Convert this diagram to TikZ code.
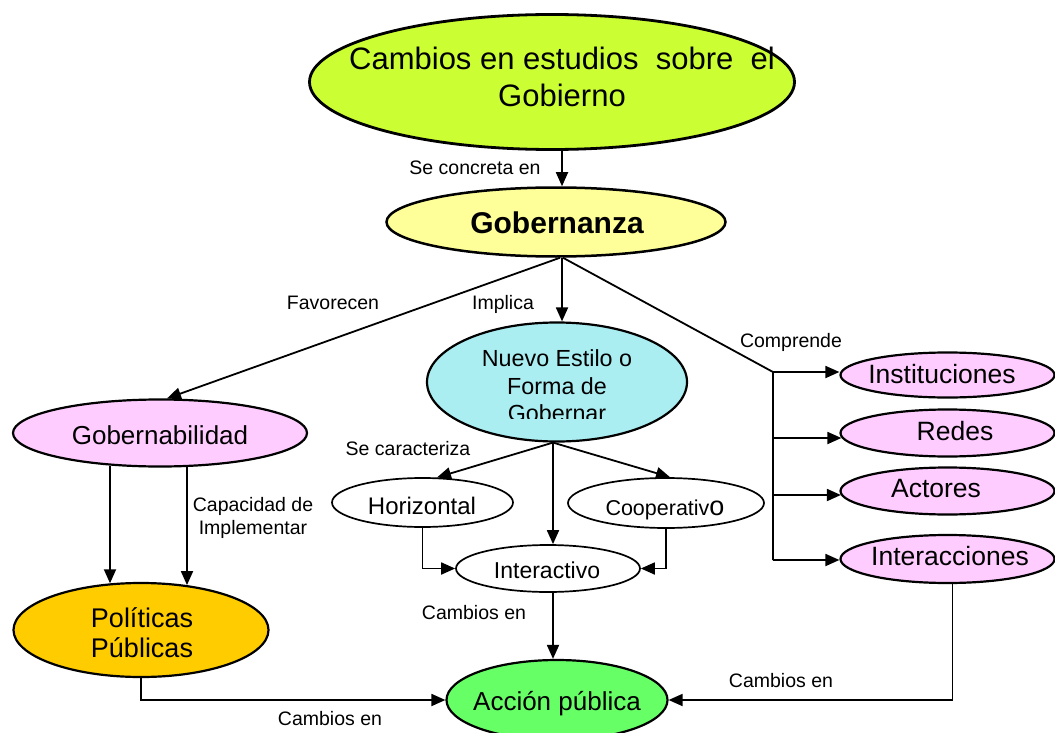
\documentclass[tikz,border=0pt]{standalone}
\usepackage{fontspec}
\setmainfont{Liberation Sans}
\usetikzlibrary{arrows.meta,shapes.geometric}
\definecolor{cgreen}{HTML}{CCFF33}
\definecolor{cyel}{HTML}{FFFF99}
\definecolor{ccyan}{HTML}{AAEEF2}
\definecolor{cpink}{HTML}{FFCCFF}
\definecolor{corange}{HTML}{FFCC00}
\definecolor{cacc}{HTML}{66FF66}
\begin{document}
\begin{tikzpicture}[x=1pt,y=-1pt,
  ell/.style={ellipse, draw=black, line width=2.2pt, inner sep=0pt},
  wel/.style={ellipse, draw=black, line width=1.7pt, fill=white, inner sep=0pt},
  txt/.style={inner sep=0pt, anchor=base},
  lab/.style={inner sep=0pt, anchor=base, font=\fontsize{19.5}{23}\selectfont},
  arr/.style={-{Triangle[length=14pt,width=12pt]}, line width=1.8pt},
  con/.style={line width=1.8pt},
]
\useasboundingbox (0,0) rectangle (1055,733);

% --- ellipses ---
\node[ell, fill=cgreen, minimum width=485pt, minimum height=135pt, line width=2.8pt] (cam) at (552,82) {};
\node[align=center, inner sep=0pt, font=\fontsize{31}{37}\selectfont] (camt) at (562,76.5) {Cambios en estudios\ \ sobre\ \ el\\Gobierno};

\node[ell, fill=cyel, minimum width=339pt, minimum height=69pt, line width=2.5pt] (gob) at (556,222) {};
\node[txt, font=\bfseries\fontsize{30}{36}\selectfont] (gobt) at (557,233.5) {Gobernanza};

\node[ell, fill=ccyan, minimum width=260pt, minimum height=119pt] (nue) at (557,382) {};
\begin{scope}
\clip (420,300) rectangle (700,418.8);
\node[align=center, inner sep=0pt, font=\fontsize{23.3}{27.2}\selectfont] (nuet) at (557,385.7) {Nuevo Estilo o\\Forma de\\Gobernar};
\end{scope}

\node[ell, fill=cpink, minimum width=294pt, minimum height=67pt] (gbl) at (160,433) {};
\node[txt, font=\fontsize{26}{31}\selectfont] (gblt) at (160,444) {Gobernabilidad};

\node[ell, fill=corange, minimum width=255pt, minimum height=94pt] (pol) at (141,630) {};
\node[align=center, inner sep=0pt, font=\fontsize{27}{30}\selectfont] (polt) at (142,633) {Políticas\\Públicas};

\node[ell, fill=cacc, minimum width=221pt, minimum height=80pt] (acc) at (557,700) {};
\node[txt, font=\fontsize{26}{31}\selectfont] (acct) at (557,710) {Acción pública};

\node[ell, fill=cpink, minimum width=214pt, minimum height=45pt] (inst) at (947.5,375) {};
\node[txt, font=\fontsize{26.5}{31}\selectfont] (instt) at (942,383.5) {Instituciones};
\node[ell, fill=cpink, minimum width=214pt, minimum height=47pt] (red) at (947.5,433) {};
\node[txt, font=\fontsize{26.5}{31}\selectfont] (redt) at (955,440.5) {Redes};
\node[ell, fill=cpink, minimum width=214pt, minimum height=47pt] (act) at (947.5,491) {};
\node[txt, font=\fontsize{26.5}{31}\selectfont] (actt) at (936,497.5) {Actores};
\node[ell, fill=cpink, minimum width=214pt, minimum height=48pt] (intr) at (947.5,559) {};
\node[txt, font=\fontsize{26.5}{31}\selectfont] (intrt) at (950,565.5) {Interacciones};

\node[wel, minimum width=181pt, minimum height=49pt] (hor) at (422.5,502.5) {};
\node[txt, font=\fontsize{24}{28}\selectfont] (hort) at (422,514.6) {Horizontal};
\node[wel, minimum width=196pt, minimum height=50pt] (coo) at (666,503) {};
\node[txt, font=\fontsize{21.5}{26}\selectfont] (coot) at (665,515) {Cooperativ{\fontsize{27}{30}\selectfont o}};
\node[wel, minimum width=184pt, minimum height=47pt] (inta) at (548,568.5) {};
\node[txt, font=\fontsize{23}{27}\selectfont] (intat) at (547,578.2) {Interactivo};

% --- connectors ---
\draw[arr] ([xshift=10pt]cam.south) -- ([xshift=6pt]gob.north);
\draw[arr] ([xshift=4pt]gob.south) -- ([xshift=7pt]gbl.north);
\draw[arr] ([xshift=6pt]gob.south) -- ([xshift=5pt]nue.north);
\coordinate (c1) at (773,372);
\coordinate (c2) at (773,438);
\coordinate (c3) at (773,495);
\coordinate (c4) at (773,560);
\draw[con] ([xshift=7pt]gob.south) -- (c1) -- (c4);
\draw[arr] (c1) -- (c1 -| inst.west);
\draw[arr] (c2) -- ([xshift=2pt]c2 -| red.west);
\draw[arr] (c3) -- ([xshift=1.5pt]c3 -| act.west);
\draw[arr] (c4) -- (c4 -| intr.west);

\draw[arr] ([xshift=-4pt]nue.south) -- ([xshift=14.5pt,yshift=-0.3pt]hor.north);
\draw[arr] ([xshift=-4pt]nue.south) -- ([xshift=4pt]coo.north);
\draw[arr] ([xshift=-4pt]nue.south) -- ([xshift=5pt]inta.north);
\draw[arr] (hor.south) |- (inta.west);
\draw[arr] (coo.south) |- (inta.east);
\draw[arr] ([xshift=5pt]inta.south) -- ([xshift=-4pt]acc.north);

\draw[arr] ([xshift=-50pt,yshift=2pt]gbl.south) -- ([xshift=-31pt,yshift=-1.4pt]pol.north);
\draw[arr] ([xshift=27pt,yshift=0.6pt]gbl.south) -- ([xshift=46pt,yshift=-3.2pt]pol.north);

\draw[arr] (pol.south) |- (acc.west);
\draw[arr] ([xshift=5pt]intr.south) |- (acc.east);

% --- labels ---
\node[lab] (l1) at (475,175) {Se concreta en};
\node[lab] (l2) at (333,309) {Favorecen};
\node[lab] (l3) at (503,309) {Implica};
\node[lab] (l4) at (791,347) {Comprende};
\node[lab] (l5) at (408,455) {Se caracteriza};
\node[align=center, inner sep=0pt, font=\fontsize{19.5}{23}\selectfont] (l6) at (253,518.4) {Capacidad de\\Implementar};
\node[lab] (l7) at (474,619) {Cambios en};
\node[lab] (l8) at (781,687) {Cambios en};
\node[lab] (l9) at (330,725) {Cambios en};
\end{tikzpicture}
\end{document}
